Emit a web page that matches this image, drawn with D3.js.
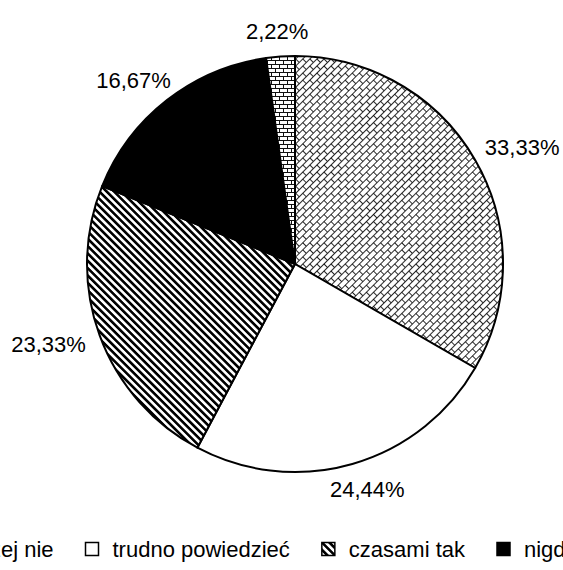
<!DOCTYPE html>
<html>
<head>
<meta charset="utf-8">
<script src="https://cdn.jsdelivr.net/npm/d3@7"></script>
<style>
  body { margin: 0; background: #fff; }
  svg { display: block; }
  text { font-family: "Liberation Sans", Arial, sans-serif; fill: #000; }
</style>
</head>
<body>
<div id="chart"></div>
<script>
// data
const categories = ["raczej nie", "trudno powiedzieć", "czasami tak", "nigdy", "tak"];
const values = [33.33, 24.44, 23.33, 16.67, 2.22];
const fills = ["url(#diagBrick)", "#fff", "url(#wideStripe)", "#000", "url(#hBrick)"];

const width = 563, height = 570;
const cx = 295, cy = 264, radius = 208;
const fontSize = 22;

const pl = d3.formatLocale({decimal: ",", thousands: " ", grouping: [3], currency: ["", " zł"]});
const fmt = pl.format(".2f");

const svg = d3.select("#chart").append("svg")
  .attr("width", width)
  .attr("height", height);

//// patterns
const defs = svg.append("defs");

// diagonal brick
const db = defs.append("pattern")
  .attr("id", "diagBrick")
  .attr("patternUnits", "userSpaceOnUse")
  .attr("width", 10).attr("height", 10)
  .attr("patternTransform", "rotate(-45)");
db.append("rect").attr("width", 10).attr("height", 10).attr("fill", "#fff");
db.append("path")
  .attr("d", "M0,0.5H10M0,5.5H10M0.5,0V5.5M5.5,5.5V10")
  .attr("stroke", "#111").attr("stroke-width", 0.9).attr("fill", "none");

// horizontal brick
const hb = defs.append("pattern")
  .attr("id", "hBrick")
  .attr("patternUnits", "userSpaceOnUse")
  .attr("width", 8).attr("height", 8);
hb.append("rect").attr("width", 8).attr("height", 8).attr("fill", "#fff");
hb.append("path")
  .attr("d", "M0,0.5H8M0,4.5H8M0.5,0V4.5M4.5,4.5V8")
  .attr("stroke", "#111").attr("stroke-width", 1).attr("fill", "none");

// wide downward diagonal
const ws = defs.append("pattern")
  .attr("id", "wideStripe")
  .attr("patternUnits", "userSpaceOnUse")
  .attr("width", 5.2).attr("height", 10)
  .attr("patternTransform", "rotate(-45)");
ws.append("rect").attr("width", 5.2).attr("height", 10).attr("fill", "#fff");
ws.append("rect").attr("width", 2.6).attr("height", 10).attr("fill", "#000");

//// pie
const pie = d3.pie().sort(null).value(d => d)
  .startAngle(0).endAngle(2 * Math.PI);
const arcs = pie(values);

const arc = d3.arc().innerRadius(0).outerRadius(radius);

const g = svg.append("g").attr("transform", `translate(${cx},${cy})`);

g.selectAll("path.slice")
  .data(arcs)
  .join("path")
  .attr("class", "slice")
  .attr("d", arc)
  .attr("fill", (d, i) => fills[i])
  .attr("stroke", "#000")
  .attr("stroke-width", 2)
  .attr("stroke-linejoin", "round");

// labels outside the pie
const labR = radius + 17;
g.selectAll("text.lab")
  .data(arcs)
  .join("text")
  .attr("class", "lab")
  .attr("font-size", fontSize)
  .attr("text-anchor", "middle")
  .text(d => fmt(d.value) + "%")
  .each(function(d) {
    const a = (d.startAngle + d.endAngle) / 2;
    const s = Math.sin(a), c = -Math.cos(a);
    const hw = this.getComputedTextLength() / 2, hh = 9;
    const x = labR * s + hw * s;
    const y = labR * c + hh * c;
    d3.select(this).attr("x", x).attr("y", y + 8);
  });

//// legend
const legY = 557;
const box = 14, gapIn = 13, gapOut = 32;
const leg = svg.append("g");
const items = leg.selectAll("g")
  .data(categories)
  .join("g");

items.append("rect")
  .attr("width", box - 1).attr("height", box - 1)
  .attr("y", legY - 14.5)
  .attr("fill", (d, i) => fills[i])
  .attr("stroke", "#000").attr("stroke-width", 1.5);

items.append("text")
  .attr("font-size", fontSize)
  .attr("x", box + gapIn)
  .attr("y", legY)
  .text(d => d);

// lay out left to right; second item's box sits at x = 85
let widths = [];
items.select("text").each(function() { widths.push(this.getComputedTextLength()); });
let x = 85 - (box + gapIn + widths[0] + gapOut);
items.each(function(d, i) {
  d3.select(this).attr("transform", `translate(${x + 0.5},0)`);
  x += box + gapIn + widths[i] + gapOut;
});
</script>
</body>
</html>
